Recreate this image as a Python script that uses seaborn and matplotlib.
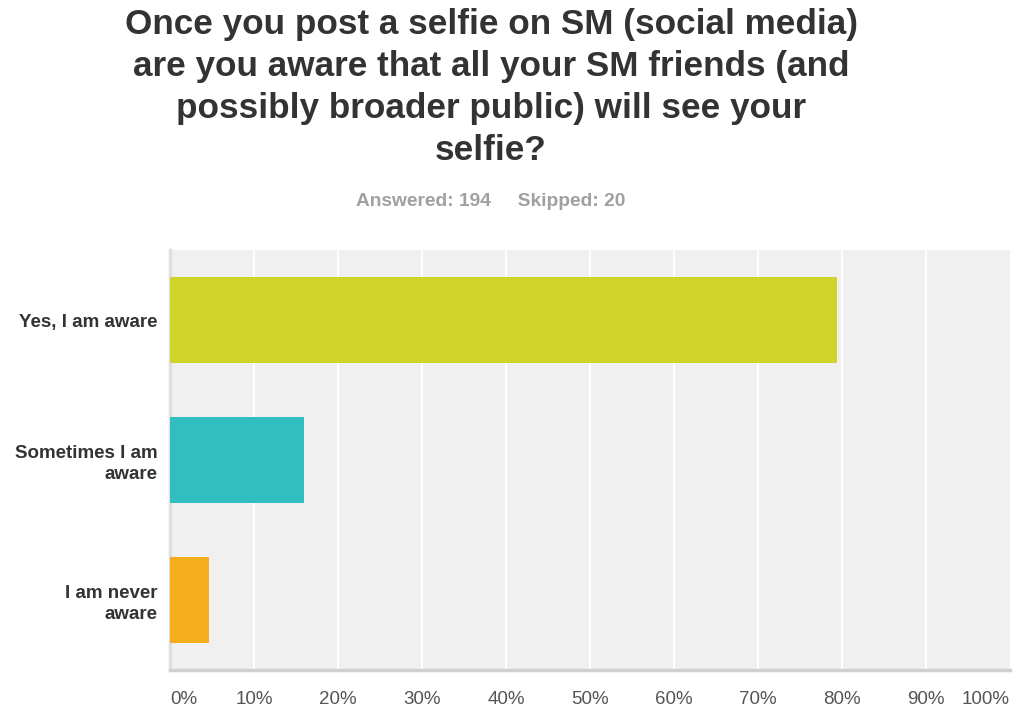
import matplotlib
matplotlib.use("Agg")
import matplotlib.pyplot as plt
import seaborn as sns
import pandas as pd

# Survey responses (percent of respondents)
answers = ["Yes, I am aware", "Sometimes I am\naware", "I am never\naware"]
percent = [79.38, 15.98, 4.64]
bar_colors = ["#CED42A", "#32BDBF", "#F6AE1F"]
tick_values = [0, 10, 20, 30, 40, 50, 60, 70, 80, 90, 100]
tick_labels = [f"{v}%" for v in tick_values]

title = ("Once you post a selfie on SM (social media)\n"
         "are you aware that all your SM friends (and\n"
         "possibly broader public) will see your\n"
         "selfie?")
subtitle = "Answered: 194     Skipped: 20"

sns.set_theme(style="white")
plt.rcParams["font.family"] = ["Liberation Sans", "DejaVu Sans"]

df = pd.DataFrame({"answer": answers, "percent": percent})

fig = plt.figure(figsize=(10.22, 7.15), dpi=100)
ax = fig.add_axes([170 / 1022, 45 / 715, 840 / 1022, 420 / 715])
ax.set_facecolor("#F0F0F0")

sns.barplot(data=df, x="percent", y="answer", hue="answer",
            palette=bar_colors, saturation=1, orient="h", width=0.62,
            linewidth=0, edgecolor="none",
            legend=False, ax=ax, zorder=3)

ax.set_xlim(0, 100)
ax.set_ylim(2.5, -0.5)
ax.set_xticks(tick_values)
ax.set_xticklabels(tick_labels)
for v in tick_values[1:-1]:
    ax.axvline(v, color="white", lw=1.6, zorder=1)

for lbl in ax.get_xticklabels():
    lbl.set_color("#555555")
    lbl.set_fontsize(13.5)
xl = ax.get_xticklabels()
xl[0].set_ha("left")
xl[-1].set_ha("right")
ax.tick_params(axis="x", length=0, pad=15)
ax.tick_params(axis="y", length=0, pad=9)
for lbl in ax.get_yticklabels():
    lbl.set_fontweight("bold")
    lbl.set_color("#333333")
    lbl.set_fontsize(13.5)
    lbl.set_ha("right")
    lbl.set_multialignment("right")
    lbl.set_linespacing(1.3)

ax.set_xlabel("")
ax.set_ylabel("")
for side in ["top", "right"]:
    ax.spines[side].set_visible(False)
ax.spines["left"].set_color("#E0E0E0")
ax.spines["left"].set_linewidth(2.5)
ax.spines["bottom"].set_color("#D0D0D0")
ax.spines["bottom"].set_linewidth(2.5)

fig.text(491 / 1022, 1 - 8 / 715, title, ha="center", va="top",
         fontsize=25.3, fontweight="bold", color="#333333", linespacing=1.34)
fig.text(491 / 1022, 1 - 201 / 715, subtitle, ha="center", va="center",
         fontsize=13.8, fontweight="bold", color="#A0A0A0")

fig.savefig("out.png", dpi=100)
